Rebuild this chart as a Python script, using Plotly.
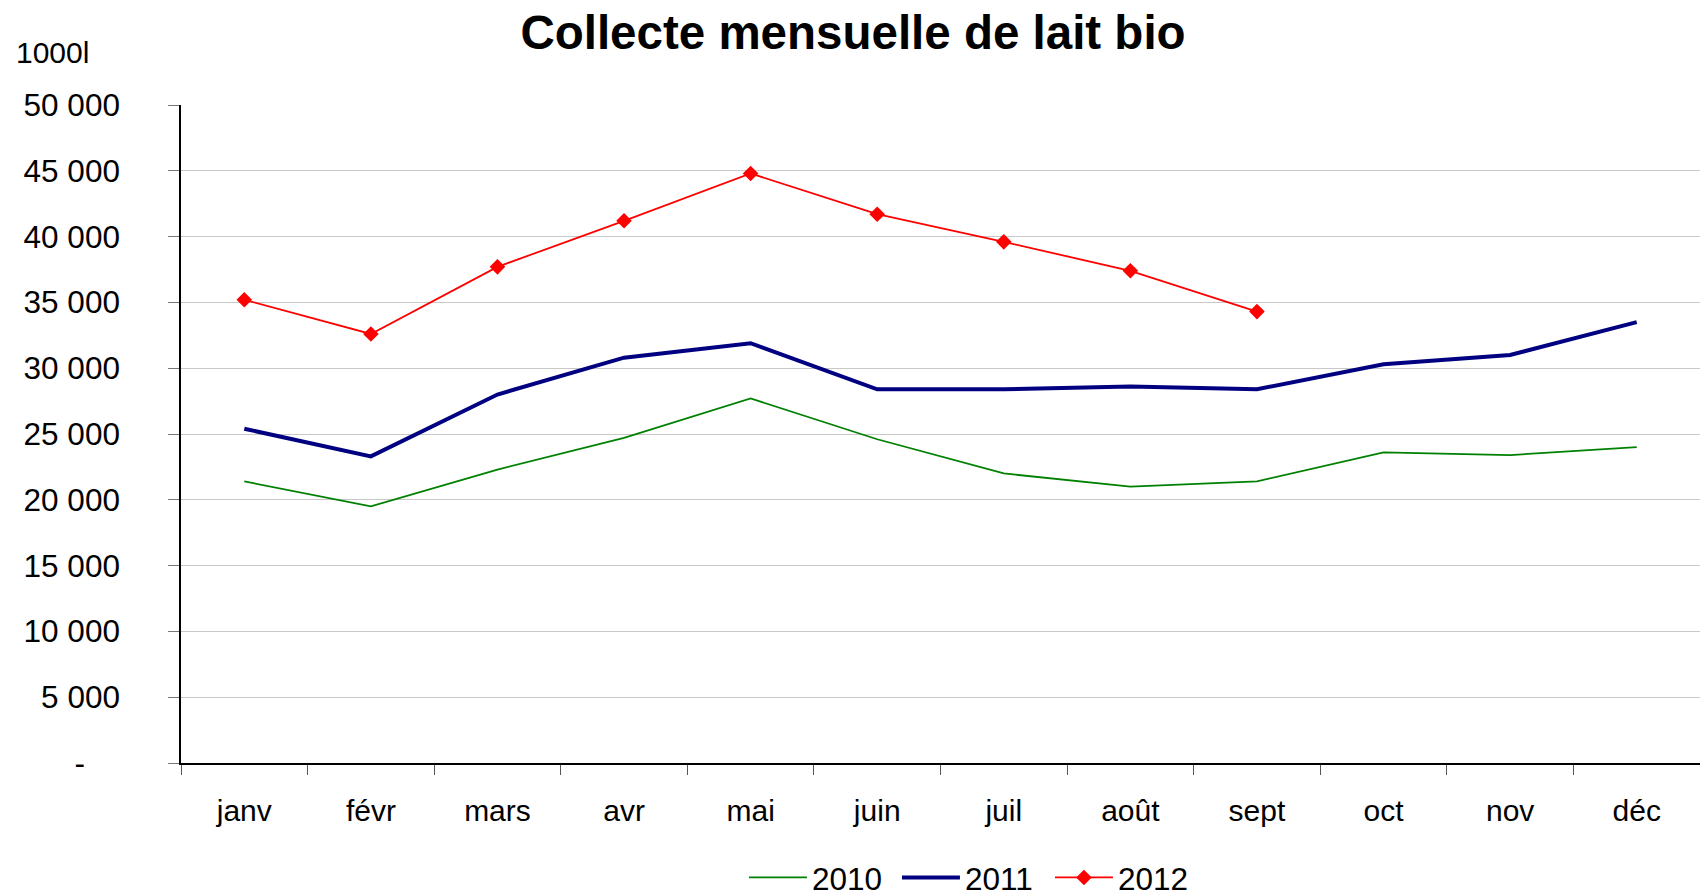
import plotly.graph_objects as go

months = ["janv", "févr", "mars", "avr", "mai", "juin", "juil", "août", "sept", "oct", "nov", "déc"]
y2010 = [21400, 19500, 22300, 24700, 27700, 24600, 22000, 21000, 21400, 23600, 23400, 24000]
y2011 = [25400, 23300, 28000, 30800, 31900, 28400, 28400, 28600, 28400, 30300, 31000, 33500]
y2012 = [35200, 32600, 37700, 41200, 44800, 41700, 39600, 37400, 34300]
tick_vals = [0, 5000, 10000, 15000, 20000, 25000, 30000, 35000, 40000, 45000, 50000]
tick_text = ["-\u00a0\u00a0\u00a0\u00a0", "5 000", "10 000", "15 000", "20 000", "25 000",
             "30 000", "35 000", "40 000", "45 000", "50 000"]

FONT = "Liberation Sans, Arial, sans-serif"
W, H = 1700, 896

fig = go.Figure()
fig.add_trace(go.Scatter(x=months, y=y2010, name="2010", mode="lines",
                         line=dict(color="#008000", width=1.8)))
fig.add_trace(go.Scatter(x=months, y=y2011, name="2011", mode="lines",
                         line=dict(color="#000080", width=4)))
fig.add_trace(go.Scatter(x=months[:len(y2012)], y=y2012, name="2012", mode="lines+markers",
                         line=dict(color="#FF0000", width=1.8),
                         marker=dict(symbol="diamond", size=12, color="#FF0000")))

fig.update_layout(
    width=W, height=H,
    paper_bgcolor="white", plot_bgcolor="white",
    margin=dict(l=181, r=0, t=105, b=133, autoexpand=False),
    font=dict(family=FONT, size=30, color="black"),
    title=dict(text="<b>Collecte mensuelle de lait bio</b>", x=853/W, xref="container",
               xanchor="center", y=1 - 32/H, yanchor="middle",
               font=dict(family=FONT, size=47.5, color="black")),
    legend=dict(orientation="h", x=0.3706, xanchor="left", y=-0.174, yanchor="middle",
                font=dict(family=FONT, size=31.5), bgcolor="rgba(0,0,0,0)",
                itemwidth=58, entrywidth=80),
    showlegend=True,
)
fig.update_xaxes(
    type="category", range=[-0.5, 11.5], showgrid=False, automargin=False,
    showline=True, linecolor="black", linewidth=1.5,
    ticks="outside", tickson="boundaries", ticklen=10, tickcolor="#555",
    ticklabelstandoff=20, tickfont=dict(family=FONT, size=30),
)
fig.update_yaxes(
    range=[0, 50000], tickvals=tick_vals, ticktext=tick_text, automargin=False,
    showgrid=True, gridcolor="#c8c8c8", gridwidth=1.2,
    showline=True, linecolor="black", linewidth=1.5,
    ticks="outside", ticklen=11, tickcolor="#777",
    ticklabelstandoff=42, tickfont=dict(family=FONT, size=31.5), zeroline=False,
)
fig.add_annotation(text="1000l", xref="paper", yref="paper", x=0, y=1,
                   xanchor="left", yanchor="middle", xshift=-167, yshift=53,
                   showarrow=False, font=dict(family=FONT, size=30, color="black"))

fig.write_html("out.html", config={"displayModeBar": False},
               post_script="document.body.style.margin='0';document.body.style.overflow='hidden';")
